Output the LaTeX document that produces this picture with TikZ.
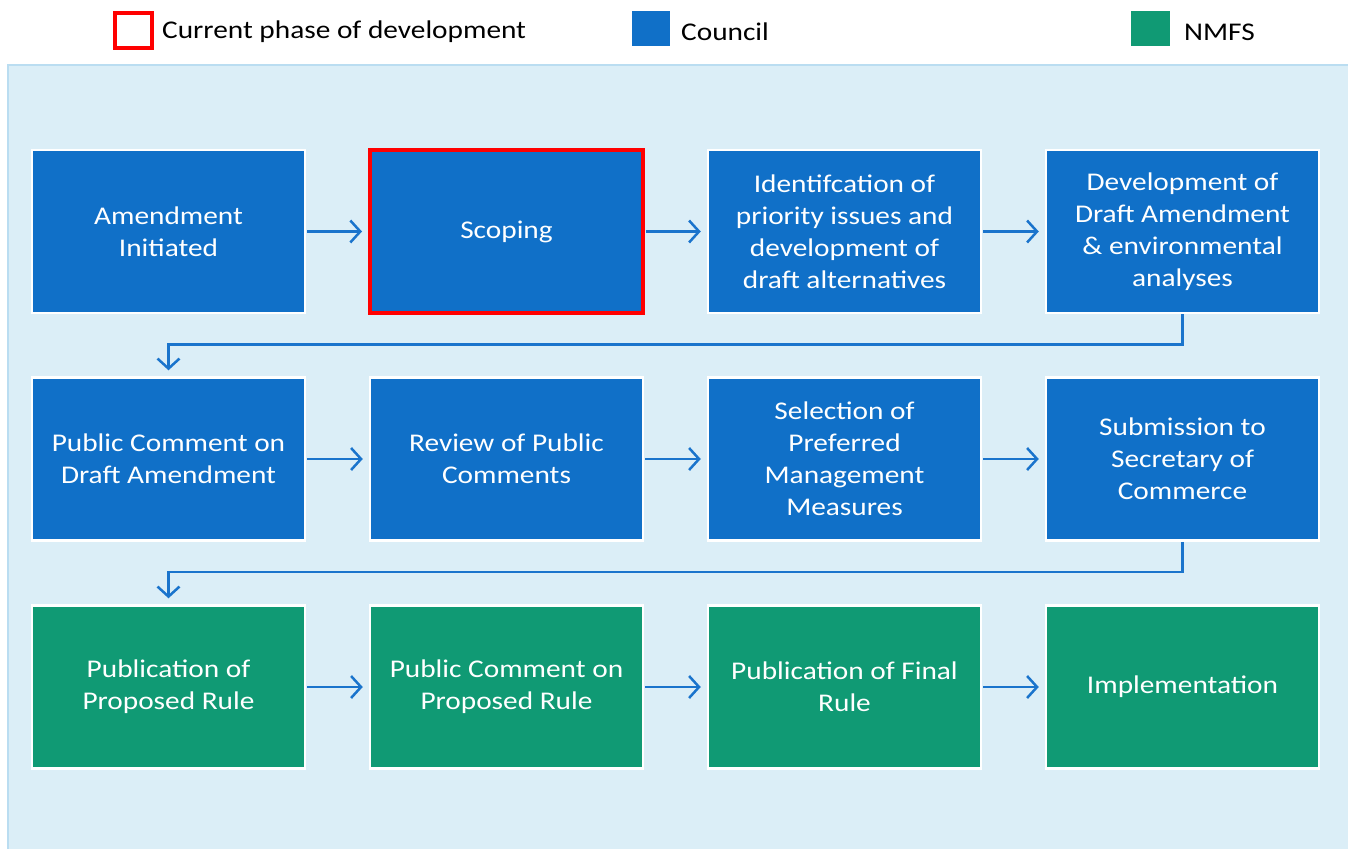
\documentclass[tikz,border=0pt]{standalone}
\usepackage{fontspec}
\setmainfont{Carlito}[FakeStretch=1.15]
\usetikzlibrary{arrows.meta}
\definecolor{cblue}{HTML}{1070C8}
\definecolor{cgreen}{HTML}{109A74}
\definecolor{panel}{HTML}{DBEEF7}
\definecolor{panelb}{HTML}{BADDF1}
\definecolor{arr}{HTML}{1A74CC}
\tikzset{
  boxbase/.style={rectangle, minimum width=273pt, minimum height=163pt, line width=2.5pt, draw=white, text=white, align=center, font=\fontsize{25.5}{32}\selectfont, inner sep=0pt},
  council/.style={boxbase, fill=cblue},
  nmfs/.style={boxbase, fill=cgreen},
  current/.style={draw=red, line width=4pt},
  flow/.style={draw=arr, line width=2.5pt, -{Straight Barb[length=10pt,width=22pt,line width=2.5pt]}, shorten >=6pt, shorten <=1pt},
  legtext/.style={anchor=west, font=\fontsize{25.5}{32}\selectfont, inner sep=0pt}
}
\begin{document}
\begin{tikzpicture}[x=1pt,y=-1pt]
\useasboundingbox (0,0) rectangle (1348,848);
% panel
\draw[fill=panel, draw=panelb, line width=2pt] (8,65) rectangle (1360,860);
% legend
\node[draw=red, line width=4pt, minimum width=37pt, minimum height=35pt, inner sep=0pt] (lcur) at (133,31) {};
\node[legtext] (tcur) at (162,32) {Current phase of development};
\node[fill=cblue, minimum width=38pt, minimum height=35pt, inner sep=0pt] (lcou) at (651,29) {};
\node[legtext] (tcou) at (681,32) {Council};
\node[fill=cgreen, minimum width=39pt, minimum height=35pt, inner sep=0pt] (lnmfs) at (1150.5,29) {};
\node[legtext] (tnmfs) at (1184,32) {NMFS};
% row 1
\node[council] (a1) at (168.5,231.5) {Amendment\\Initiated};
\node[council, current] (a2) at (506.5,231.5) {Scoping};
\node[council] (a3) at (844.5,231.5) {Identifcation of\\priority issues and\\development of\\draft alternatives};
\node[council] (a4) at (1182.5,231.5) {Development of\\Draft Amendment\\\& environmental\\analyses};
% row 2
\node[council] (b1) at (168.5,459) {Public Comment on\\Draft Amendment};
\node[council] (b2) at (506.5,459) {Review of Public\\Comments};
\node[council] (b3) at (844.5,459) {Selection of\\Preferred\\Management\\Measures};
\node[council] (b4) at (1182.5,459) {Submission to\\Secretary of\\Commerce};
% row 3
\node[nmfs] (c1) at (168.5,687) {Publication of\\Proposed Rule};
\node[nmfs] (c2) at (506.5,687) {Public Comment on\\Proposed Rule};
\node[nmfs] (c3) at (844.5,687) {Publication of Final\\Rule};
\node[nmfs] (c4) at (1182.5,687) {Implementation};
% arrows
\draw[flow] (a1) -- (a2);
\draw[flow] (a2) -- (a3);
\draw[flow] (a3) -- (a4);
\draw[flow] (b1) -- (b2);
\draw[flow] (b2) -- (b3);
\draw[flow] (b3) -- (b4);
\draw[flow] (c1) -- (c2);
\draw[flow] (c2) -- (c3);
\draw[flow] (c3) -- (c4);
\draw[flow, shorten <=0pt] (a4.south) -- ++(0,30) -| (b1.north);
\draw[flow, shorten <=0pt] (b4.south) -- ++(0,30) -| (c1.north);
\end{tikzpicture}
\end{document}
